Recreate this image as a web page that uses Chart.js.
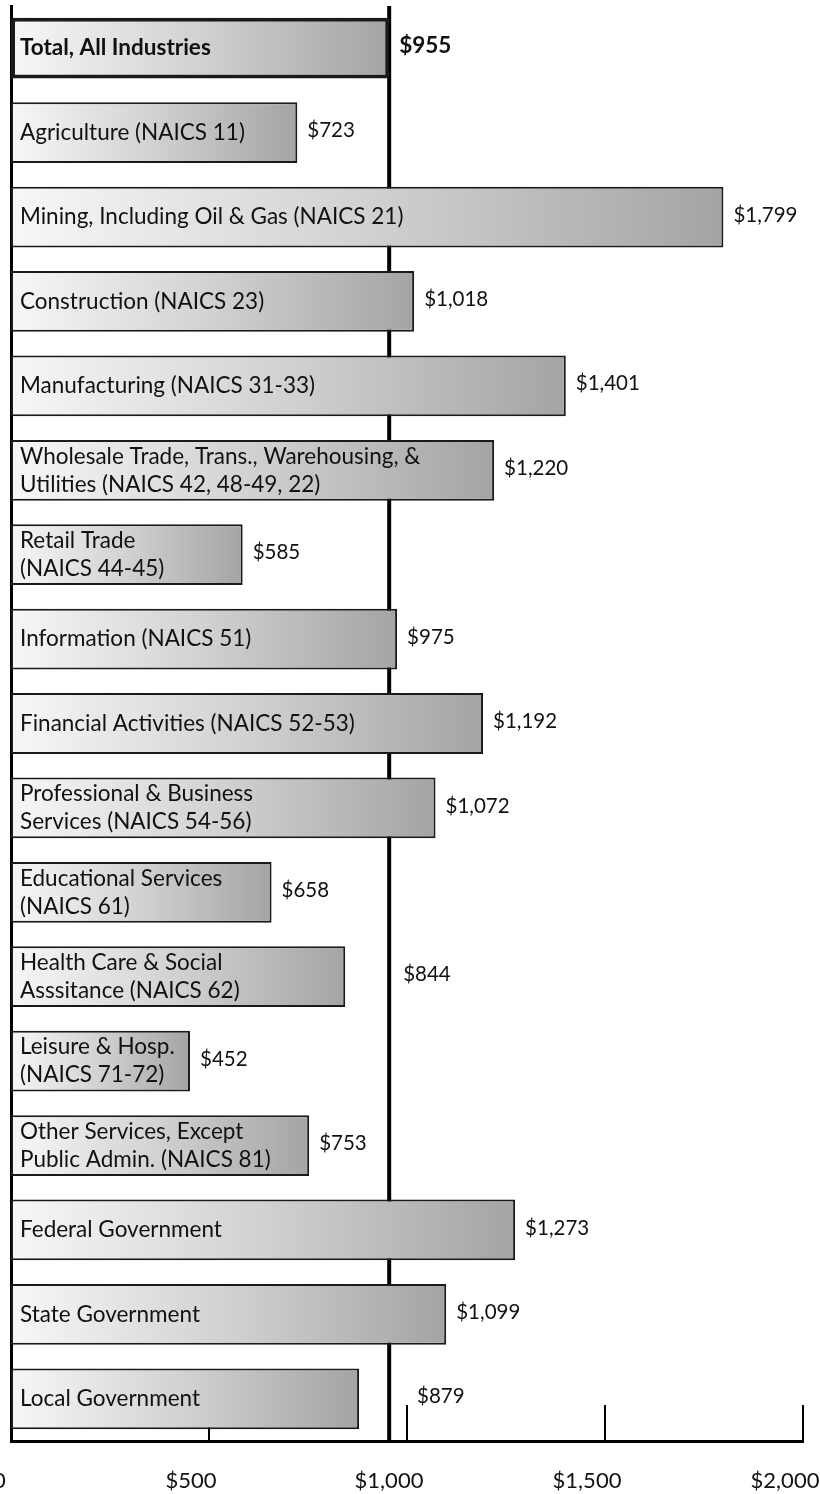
<!DOCTYPE html>
<html>
<head>
<meta charset="utf-8">
<script src="https://cdn.jsdelivr.net/npm/chart.js@4.4.1/dist/chart.umd.min.js"></script>
<style>
  html, body { margin: 0; padding: 0; background: #fff; }
  #wrap { position: relative; width: 820px; height: 1494px; }
</style>
</head>
<body>
<div id="wrap"><canvas id="chart"></canvas></div>
<script>
// weekly wages by industry (first row is the all-industries total)
const categories = [
  "Total, All Industries",
  "Agriculture (NAICS 11)",
  "Mining, Including Oil & Gas (NAICS 21)",
  "Construction (NAICS 23)",
  "Manufacturing (NAICS 31-33)",
  ["Wholesale Trade, Trans., Warehousing, &", "Utilities (NAICS 42, 48-49, 22)"],
  ["Retail Trade", "(NAICS 44-45)"],
  "Information (NAICS 51)",
  "Financial Activities (NAICS 52-53)",
  ["Professional & Business", "Services (NAICS 54-56)"],
  ["Educational Services", "(NAICS 61)"],
  ["Health Care & Social", "Asssitance (NAICS 62)"],
  ["Leisure & Hosp.", "(NAICS 71-72)"],
  ["Other Services, Except", "Public Admin. (NAICS 81)"],
  "Federal Government",
  "State Government",
  "Local Government"
]
const wages = [955, 723, 1799, 1018, 1401, 1220, 585, 975, 1192, 1072, 658, 844, 452, 753, 1273, 1099, 879]
const xTicks = [0, 500, 1000, 1500, 2000]

const FONT = "Lato, 'Open Sans', sans-serif"
const TICK_H = 36
const money = (v) => "$" + v.toLocaleString("en-US")

// per-bar white -> gray gradient
function barFill(context) {
  const chart = context.chart
  const { chartArea, scales } = chart
  if (!chartArea || !scales.x) {
    return "#ccc"
  }
  const x0 = scales.x.getPixelForValue(0)
  const x1 = scales.x.getPixelForValue(context.raw)
  const g = chart.ctx.createLinearGradient(x0, 0, x1, 0)
  g.addColorStop(0, "#f7f7f7")
  g.addColorStop(0.5, "#d0d1d3")
  g.addColorStop(1, "#a3a4a6")
  return g
}

const wagePlugin = {
  id: "wagePlugin",

  // average line and the upward axis ticks go under the bars
  beforeDatasetsDraw: (chart) => {
    const { ctx, chartArea, scales } = chart
    const x = scales.x.getPixelForValue(wages[0])

    ctx.save()
    ctx.strokeStyle = "#000"
    ctx.lineWidth = 4
    ctx.beginPath()
    ctx.moveTo(x, chartArea.top)
    ctx.lineTo(x, chartArea.bottom)
    ctx.stroke()

    ctx.lineWidth = 2
    xTicks.forEach((t) => {
      if (t === 0) {
        return
      }
      const tx = scales.x.getPixelForValue(t)
      ctx.beginPath()
      ctx.moveTo(tx, chartArea.bottom)
      ctx.lineTo(tx, chartArea.bottom - TICK_H)
      ctx.stroke()
    })
    ctx.restore()
  },

  afterDatasetsDraw: (chart) => {
    const { ctx, scales, chartArea } = chart
    const meta = chart.getDatasetMeta(0)
    const lineX = scales.x.getPixelForValue(wages[0])
    const left = scales.x.getPixelForValue(0)

    ctx.save()
    ctx.fillStyle = "#111"
    ctx.textBaseline = "middle"
    ctx.textAlign = "left"

    meta.data.forEach((bar, i) => {
      const bold = i === 0

      // category name inside the bar
      ctx.font = (bold ? "bold " : "") + "22.5px " + FONT
      const lines = [].concat(categories[i])
      const lh = 28
      let y = bar.y - (lines.length - 1) * lh / 2
      lines.forEach((line) => {
        ctx.fillText(line, left + 9, y)
        y += lh
      })

      // value label right of the bar, pushed past the average line if it would hit it
      ctx.font = bold ? "bold 22.5px " + FONT : "20.5px " + FONT
      const text = money(wages[i])
      const w = ctx.measureText(text).width
      let vx = bar.x + 10
      if (vx < lineX + 6 && vx + w > lineX - 6) {
        vx = lineX + 14
        // and past an axis tick mark if the bar sits down in the tick zone
        xTicks.forEach((t) => {
          const tx = scales.x.getPixelForValue(t)
          const inZone = bar.y + 10 > chartArea.bottom - TICK_H
          if (inZone && tx > vx - 8 && tx < vx + w) {
            vx = tx + 10
          }
        })
      }
      ctx.fillText(text, vx, bar.y - 2)
    })
    ctx.restore()
  }
}

new Chart(document.getElementById("chart"), {
  type: "bar",
  data: {
    labels: categories,
    datasets: [{
      data: wages,
      backgroundColor: barFill,
      borderColor: "#1a1a1a",
      borderWidth: (c) => c.dataIndex === 0 ? 4 : 2,
      borderSkipped: false,
      barPercentage: 0.72,
      categoryPercentage: 1
    }]
  },
  options: {
    indexAxis: "y",
    responsive: true,
    maintainAspectRatio: false,
    animation: false,
    layout: { padding: { left: 11, right: 17, top: 6, bottom: 0 } },
    plugins: {
      legend: { display: false },
      tooltip: { enabled: false }
    },
    scales: {
      x: {
        min: 0,
        max: 2000,
        afterBuildTicks: (scale) => {
          scale.ticks = xTicks.map((v) => ({ value: v }))
        },
        grid: { display: false, drawTicks: false },
        border: { display: true, color: "#000", width: 3 },
        ticks: {
          color: "#111",
          font: { family: FONT, size: 22 },
          padding: 27,
          labelOffset: -18,
          maxRotation: 0,
          autoSkip: false,
          callback: (v) => money(v)
        },
        afterFit: (scale) => {
          scale.paddingLeft = 0
          scale.paddingRight = 0
          scale.height = 53
        }
      },
      y: {
        grid: { display: false, drawTicks: false },
        border: { display: true, color: "#000", width: 3 },
        ticks: { display: false },
        afterFit: (scale) => {
          scale.width = 0
        }
      }
    }
  },
  plugins: [wagePlugin]
})
</script>
</body>
</html>
